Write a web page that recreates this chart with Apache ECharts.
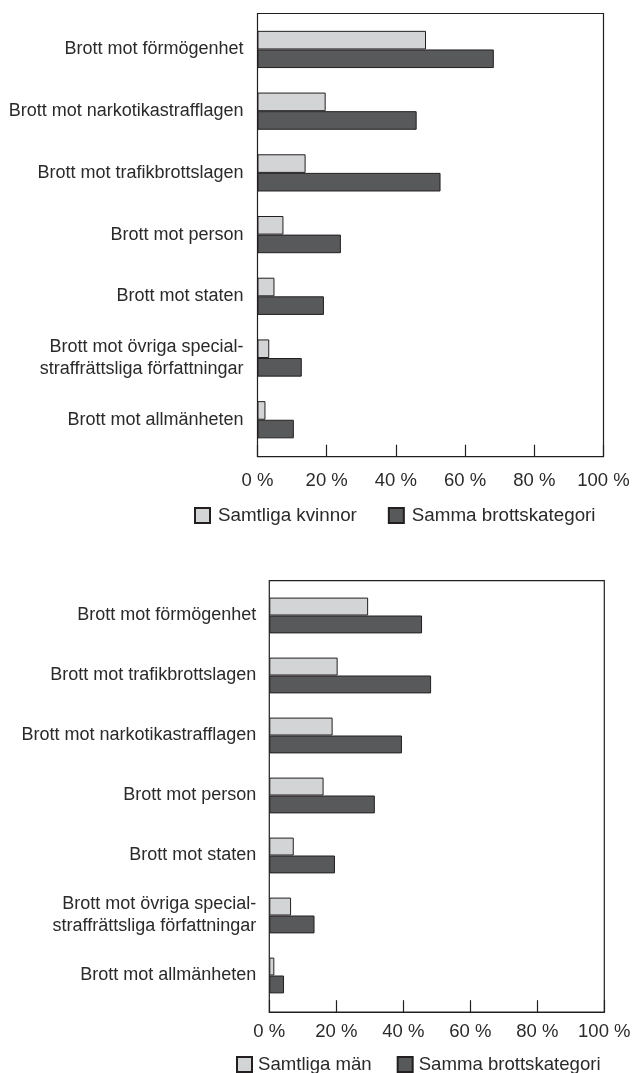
<!DOCTYPE html>
<html>
<head>
<meta charset="utf-8">
<script src="https://cdn.jsdelivr.net/npm/echarts@6/dist/echarts.min.js"></script>
<style>
html,body{margin:0;padding:0;background:#fff;}
#c{width:635px;height:1073px;}
</style>
</head>
<body>
<div id="c"></div>
<script>
// ---- data ----
const categoriesWomen = ['Brott mot förmögenhet','Brott mot narkotikastrafflagen','Brott mot trafikbrottslagen','Brott mot person','Brott mot staten','Brott mot övriga special-\nstraffrättsliga författningar','Brott mot allmänheten'];
const womenAll = [48.7, 19.7, 13.9, 7.5, 4.9, 3.4, 2.3];
const womenSame = [68.3, 46.0, 52.9, 24.1, 19.2, 12.8, 10.5];

const categoriesMen = ['Brott mot förmögenhet','Brott mot trafikbrottslagen','Brott mot narkotikastrafflagen','Brott mot person','Brott mot staten','Brott mot övriga special-\nstraffrättsliga författningar','Brott mot allmänheten'];
const menAll = [29.5, 20.4, 18.9, 16.2, 7.3, 6.5, 1.5];
const menSame = [45.6, 48.3, 39.6, 31.5, 19.6, 13.5, 4.4];

const xTickValues = [0, 20, 40, 60, 80, 100];
const tickSuffix = ' %';
const seriesNames = ['Samtliga kvinnor', 'Samtliga män', 'Samma brottskategori'];

// ---- styles ----
const INK = '#231f20';
const TEXT = '#2a2a2a';
const LIGHT = '#d3d4d6';
const DARK = '#58595b';
const FONT = 'Liberation Sans';

const chart = echarts.init(document.getElementById('c'), null, {renderer: 'canvas'});

function frameX(gridIndex, margin) {
  return {
    type: 'value', gridIndex, min: xTickValues[0], max: xTickValues[xTickValues.length - 1],
    interval: xTickValues[1] - xTickValues[0],
    axisLine: {show: true, lineStyle: {color: INK, width: 1.2}},
    axisTick: {show: true, inside: true, length: 12, lineStyle: {color: INK, width: 1.2}},
    splitLine: {show: false},
    axisLabel: {show: true, margin, color: TEXT, fontFamily: FONT, fontSize: 18.5,
      formatter: v => v + tickSuffix}
  };
}
function hiddenX(gridIndex) {
  return {type: 'value', gridIndex, min: xTickValues[0], max: xTickValues[xTickValues.length - 1], show: false};
}
function hiddenY(gridIndex) {
  return {type: 'value', gridIndex, show: false};
}
function catY(gridIndex, data, margin) {
  return {
    type: 'category', gridIndex, data, inverse: true,
    axisLine: {show: false}, axisTick: {show: false},
    axisLabel: {margin, color: TEXT, fontFamily: FONT, fontSize: 18, lineHeight: 22, align: 'right'}
  };
}
function bar(name, data, xi, color, width) {
  return {
    type: 'bar', name, data, xAxisIndex: xi, yAxisIndex: xi, barWidth: width, barGap: '0%',
    itemStyle: {color, borderColor: INK, borderWidth: 1},
    emphasis: {disabled: true}, animation: false
  };
}

chart.setOption({
  animation: false,
  textStyle: {fontFamily: FONT},
  grid: [
    {left: 257.5, top: 13.5, width: 346, height: 443.2, show: true, borderColor: INK, borderWidth: 1.2, backgroundColor: 'transparent'},
    {left: 257.5, top: 18.6, width: 346, height: 432},
    {left: 269.3, top: 580.7, width: 335, height: 431.5, show: true, borderColor: INK, borderWidth: 1.2, backgroundColor: 'transparent'},
    {left: 269.3, top: 585.5, width: 335, height: 420}
  ],
  xAxis: [frameX(0, 15), hiddenX(1), frameX(2, 10), hiddenX(3)],
  yAxis: [hiddenY(0), catY(1, categoriesWomen, 14), hiddenY(2), catY(3, categoriesMen, 13)],
  legend: [
    {left: 194, top: 506, padding: 0, icon: 'rect', itemWidth: 15, itemHeight: 15, itemGap: 31,
      data: [seriesNames[0], seriesNames[2]], selectedMode: false,
      textStyle: {color: TEXT, fontFamily: FONT, fontSize: 18.8, padding: [0, 0, 0, 3]}},
    {left: 236, top: 1055, padding: 0, icon: 'rect', itemWidth: 15, itemHeight: 15, itemGap: 25,
      data: [seriesNames[1], seriesNames[2]], selectedMode: false,
      textStyle: {color: TEXT, fontFamily: FONT, fontSize: 18.6, padding: [0, 0, 0, 1]}}
  ],
  series: [
    bar(seriesNames[0], womenAll, 1, LIGHT, 18.6),
    bar(seriesNames[2], womenSame, 1, DARK, 18.6),
    bar(seriesNames[1], menAll, 3, LIGHT, 17.9),
    bar(seriesNames[2], menSame, 3, DARK, 17.9)
  ]
});
</script>
</body>
</html>
